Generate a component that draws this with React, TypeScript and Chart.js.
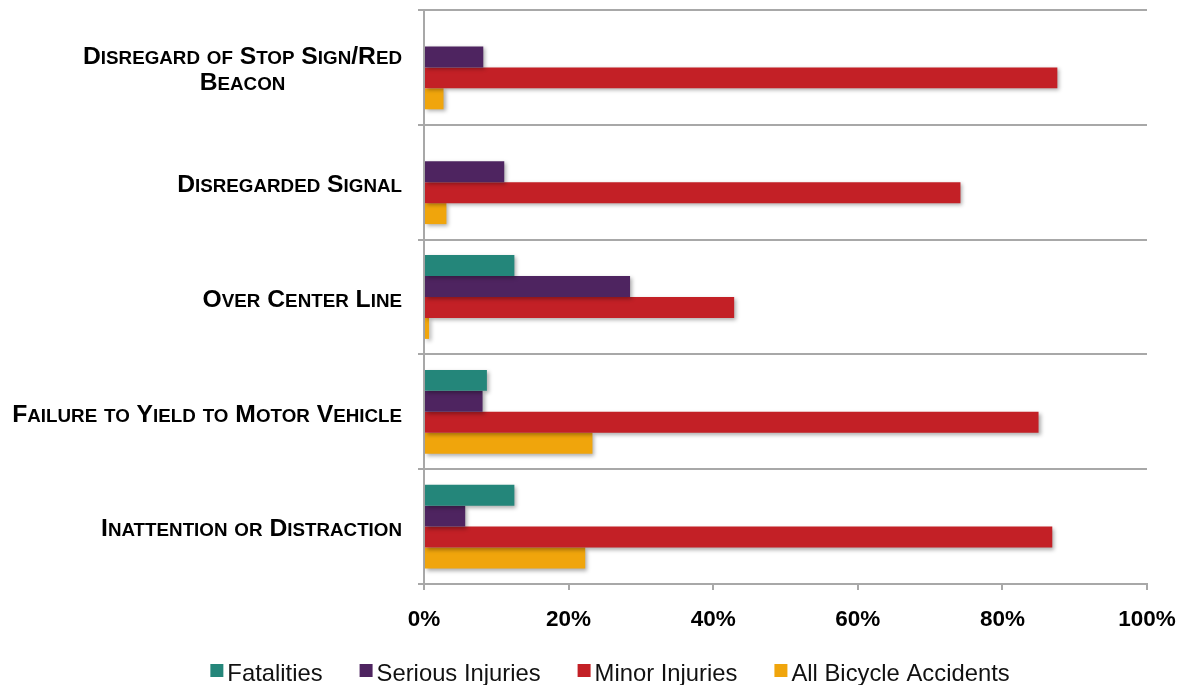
import { useEffect, useRef } from 'react';
import { Chart, registerables } from 'chart.js';

Chart.register(...registerables);

// Contributing factors, top to bottom; multi-line names are split per line
const categories: string[][] = [
  ['Disregard of Stop Sign/Red', 'Beacon'],
  ['Disregarded Signal'],
  ['Over Center Line'],
  ['Failure to Yield to Motor Vehicle'],
  ['Inattention or Distraction'],
];

// Share of each outcome (percent)
const fatalities = [0, 0, 12.5, 8.7, 12.5];
const seriousInjuries = [8.2, 11.1, 28.5, 8.1, 5.7];
const minorInjuries = [87.6, 74.2, 42.9, 85.0, 86.9];
const allBicycleAccidents = [2.7, 3.1, 0.7, 23.3, 22.3];

const seriesNames = ['Fatalities', 'Serious Injuries', 'Minor Injuries', 'All Bicycle Accidents'];
const seriesColors = ['#24867A', '#4E2460', '#C32026', '#F0A50C'];

const xMin = 0;
const xMax = 100;
const xStep = 20;

const GRID = '#a8a8a8';
const FONT = '"Liberation Sans", Arial, Helvetica, sans-serif';

// Soft drop shadow under every bar
const barShadow = {
  id: 'barShadow',
  beforeDatasetsDraw(chart: Chart) {
    const ctx = chart.ctx;
    ctx.save();
    ctx.shadowColor = 'rgba(0,0,0,0.32)';
    ctx.shadowBlur = 4;
    ctx.shadowOffsetX = 2;
    ctx.shadowOffsetY = 2;
  },
  afterDatasetsDraw(chart: Chart) {
    chart.ctx.restore();
  },
};

// Split a string into runs for small caps: capitals/punctuation at full size,
// lower-case letters upper-cased at a reduced size.
function smallCapsRuns(text: string): { t: string; small: boolean }[] {
  const runs: { t: string; small: boolean }[] = [];
  for (const ch of text) {
    const small = ch !== ch.toUpperCase();
    const last = runs[runs.length - 1];
    if (last && last.small === small) last.t += small ? ch.toUpperCase() : ch;
    else runs.push({ t: small ? ch.toUpperCase() : ch, small });
  }
  return runs;
}

const CAP_SIZE = 24.7;
const SMALL_SIZE = 18.8;

function measureSmallCaps(ctx: CanvasRenderingContext2D, text: string): number {
  let w = 0;
  for (const r of smallCapsRuns(text)) {
    ctx.font = `bold ${r.small ? SMALL_SIZE : CAP_SIZE}px ${FONT}`;
    w += ctx.measureText(r.t).width;
  }
  return w;
}

function drawSmallCaps(ctx: CanvasRenderingContext2D, text: string, x: number, y: number) {
  let cx = x;
  for (const r of smallCapsRuns(text)) {
    ctx.font = `bold ${r.small ? SMALL_SIZE : CAP_SIZE}px ${FONT}`;
    ctx.fillText(r.t, cx, y);
    cx += ctx.measureText(r.t).width;
  }
}

// Category names in bold small caps, each block centred on itself and right-aligned to the axis
const categoryLabels = {
  id: 'categoryLabels',
  afterDraw(chart: Chart) {
    const ctx = chart.ctx;
    const yScale: any = chart.scales.y;
    const right = chart.chartArea.left - 22;
    const lineH = 26;
    ctx.save();
    ctx.fillStyle = '#000';
    ctx.textAlign = 'left';
    ctx.textBaseline = 'alphabetic';
    categories.forEach((lines, i) => {
      const cy = yScale.getPixelForTick(i) + 1;
      const widths = lines.map((l) => measureSmallCaps(ctx, l));
      const blockW = Math.max(...widths);
      const center = right - blockW / 2;
      const y0 = cy - ((lines.length - 1) * lineH) / 2;
      lines.forEach((l, j) => {
        const baseline = y0 + j * lineH + CAP_SIZE * 0.716 / 2;
        drawSmallCaps(ctx, l, center - widths[j] / 2, baseline);
      });
    });
    ctx.restore();
  },
};

// Legend row beneath the axis: small square swatch then the series name
const bottomLegend = {
  id: 'bottomLegend',
  afterDraw(chart: Chart) {
    const ctx = chart.ctx;
    const box = 13;
    const gap = 4;
    const spacing = 37;
    ctx.save();
    ctx.font = `23.8px ${FONT}`;
    const widths = seriesNames.map((n) => ctx.measureText(n).width);
    const total = widths.reduce((a, w) => a + box + gap + w, 0) + spacing * (seriesNames.length - 1);
    let x = 610 - total / 2;
    const baseline = chart.chartArea.bottom + 97;
    ctx.textAlign = 'left';
    ctx.textBaseline = 'alphabetic';
    seriesNames.forEach((n, i) => {
      ctx.fillStyle = seriesColors[i];
      ctx.fillRect(x, baseline - 17, box, box);
      ctx.fillStyle = '#111';
      ctx.fillText(n, x + box + gap, baseline);
      x += box + gap + widths[i] + spacing;
    });
    ctx.restore();
  },
};

export default function App() {
  const canvasRef = useRef<HTMLCanvasElement | null>(null);

  useEffect(() => {
    if (!canvasRef.current) return;
    const series = [fatalities, seriousInjuries, minorInjuries, allBicycleAccidents];
    const chart = new Chart(canvasRef.current, {
      type: 'bar',
      data: {
        labels: categories.map((c) => c.join(' ')),
        datasets: series.map((data, i) => ({
          label: seriesNames[i],
          data,
          backgroundColor: seriesColors[i],
          borderWidth: 0,
          categoryPercentage: 0.73,
          barPercentage: 1,
        })),
      },
      options: {
        indexAxis: 'y',
        animation: false,
        responsive: true,
        maintainAspectRatio: false,
        layout: { padding: { top: 10, right: 36, bottom: 51, left: 0 } },
        plugins: {
          legend: { display: false },
          tooltip: { enabled: false },
        },
        scales: {
          x: {
            min: xMin,
            max: xMax,
            afterFit: (s: any) => {
              s.height = 50;
              // the outer labels fit inside the layout padding
              s.paddingLeft = 0;
              s.paddingRight = 0;
            },
            ticks: {
              stepSize: xStep,
              padding: 16,
              color: '#000',
              font: { family: FONT, size: 22.5, weight: 'bold' },
              callback: (v: any) => `${v}%`,
            },
            grid: { drawOnChartArea: false, drawTicks: true, tickLength: 6, color: GRID, lineWidth: 2 },
            border: { display: true, color: GRID, width: 2 },
          },
          y: {
            afterFit: (s: any) => { s.width = 424; },
            ticks: { display: false },
            grid: { color: GRID, lineWidth: 2, tickLength: 6, drawTicks: true, offset: true },
            border: { display: true, color: GRID, width: 2 },
          },
        },
      },
      plugins: [barShadow, categoryLabels, bottomLegend],
    });
    return () => chart.destroy();
  }, []);

  return (
    <div style={{ position: 'absolute', left: 0, top: 0, width: 1183, height: 685, background: '#fff' }}>
      <canvas ref={canvasRef} />
    </div>
  );
}
